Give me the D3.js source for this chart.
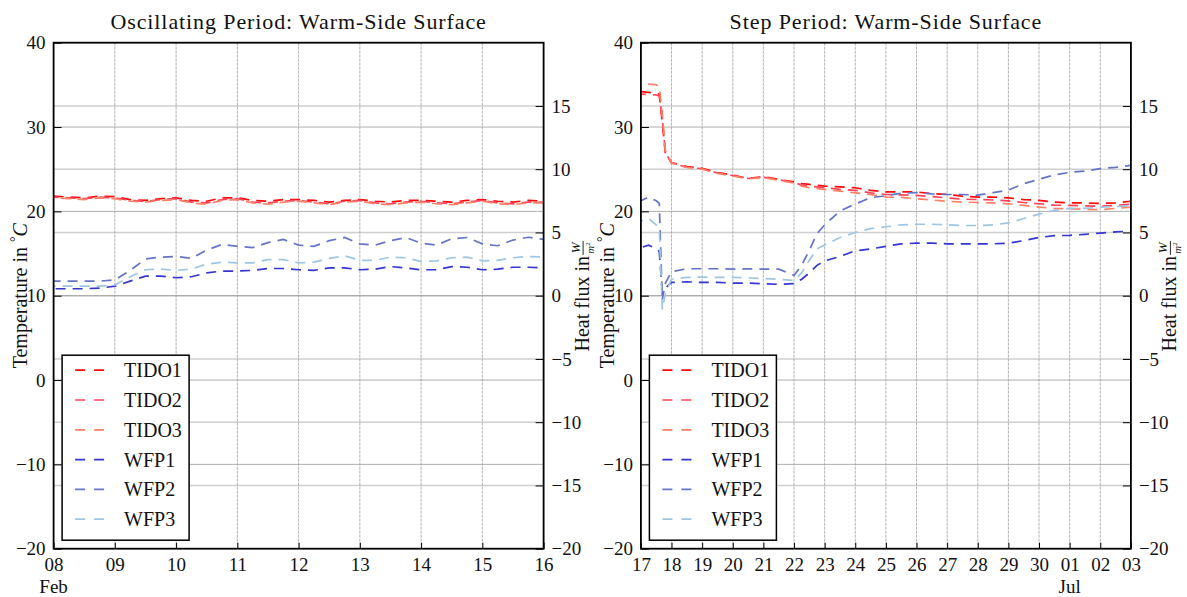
<!DOCTYPE html>
<html>
<head>
<meta charset="utf-8">
<script src="https://cdn.jsdelivr.net/npm/d3@7"></script>
<style>
    body { margin: 0; background: #fff; }
    text { font-family: "Liberation Serif", "Times New Roman", serif; fill: #111; }
</style>
</head>
<body>
<div id="chart"></div>
<script>

// series shared by both panels
const seriesNames = ["TIDO1", "TIDO2", "TIDO3", "WFP1", "WFP2", "WFP3"];
const seriesColors = ["#ff0a0a", "#ff4458", "#ff8066", "#3535d4", "#6674c8", "#9ec6e4"];

// ---- Oscillating period: days since 08 Feb (6 h steps) ----
const oscDays = [0, 0.25, 0.5, 0.75, 1, 1.25, 1.5, 1.75, 2, 2.25, 2.5, 2.75, 3, 3.25, 3.5, 3.75,
    4, 4.25, 4.5, 4.75, 5, 5.25, 5.5, 5.75, 6, 6.25, 6.5, 6.75, 7, 7.25, 7.5, 7.75, 8];

// temperatures, °C
const oscTIDO1 = [21.8, 21.7, 21.6, 21.8, 21.75, 21.4, 21.3, 21.5, 21.6, 21.3, 21.2, 21.6, 21.6, 21.3, 21.2, 21.4,
    21.4, 21.3, 21.1, 21.3, 21.4, 21.2, 21.1, 21.3, 21.3, 21.2, 21.1, 21.3, 21.4, 21.2, 21.1, 21.3, 21.2];
const oscTIDO2 = [21.7, 21.6, 21.5, 21.7, 21.6, 21.3, 21.2, 21.4, 21.5, 21.1, 21.0, 21.4, 21.5, 21.1, 21.0, 21.2,
    21.3, 21.1, 20.9, 21.2, 21.3, 21.0, 20.9, 21.1, 21.2, 21.0, 20.9, 21.1, 21.3, 21.0, 20.9, 21.1, 21.1];
const oscTIDO3 = [21.6, 21.5, 21.4, 21.6, 21.5, 21.2, 21.1, 21.3, 21.4, 21.0, 20.85, 21.3, 21.4, 21.0, 20.85, 21.1,
    21.2, 21.0, 20.8, 21.1, 21.2, 20.9, 20.8, 21.0, 21.1, 20.9, 20.8, 21.0, 21.2, 20.9, 20.8, 21.0, 21.0];

// heat flux, W/m2
const oscWFP1 = [0.55, 0.55, 0.55, 0.6, 0.75, 1.15, 1.55, 1.55, 1.42, 1.5, 1.8, 1.95, 1.95, 2.0, 2.15, 2.15,
    2.05, 2.0, 2.2, 2.2, 2.05, 2.1, 2.3, 2.2, 2.05, 2.05, 2.3, 2.25, 2.05, 2.1, 2.25, 2.25, 2.2];
const oscWFP2 = [1.15, 1.15, 1.15, 1.15, 1.25, 2.0, 2.9, 3.05, 3.1, 2.95, 3.6, 4.05, 3.9, 3.8, 4.2, 4.45,
    4.0, 3.9, 4.35, 4.6, 4.1, 4.0, 4.35, 4.6, 4.15, 4.0, 4.5, 4.6, 4.1, 3.95, 4.4, 4.62, 4.45];
const oscWFP3 = [0.75, 0.75, 0.75, 0.75, 0.85, 1.5, 2.05, 2.1, 2.0, 2.1, 2.5, 2.65, 2.6, 2.6, 2.85, 2.85,
    2.6, 2.65, 2.95, 3.15, 2.8, 2.8, 3.05, 3.0, 2.7, 2.75, 3.0, 3.05, 2.75, 2.8, 3.0, 3.1, 3.05];

// ---- Step period: days since 17 Jun ----
const stepDays = [0, 0.25, 0.5, 0.6, 0.7, 0.8, 1, 1.5, 2, 2.5, 3, 3.5, 4, 4.5, 5, 5.25, 5.5, 5.75,
    6, 6.5, 7, 7.5, 8, 8.5, 9, 9.5, 10, 10.5, 11, 11.5, 12, 12.5, 13, 13.5, 14, 14.5, 15, 15.5, 16];

const stepTIDO1 = [34.2, 34.1, 34.0, 33.9, 30.5, 26.8, 25.8, 25.3, 25.1, 24.6, 24.3, 23.9, 24.1, 23.8, 23.5, 23.3, 23.2, 23.1,
    23.0, 22.9, 22.8, 22.5, 22.3, 22.3, 22.3, 22.1, 22.0, 21.8, 21.7, 21.7, 21.6, 21.4, 21.3, 21.1, 21.0, 21.0, 20.95, 21.0, 21.2];
const stepTIDO2 = [33.9, 33.85, 33.8, 33.7, 31.0, 27.0, 25.7, 25.25, 25.05, 24.55, 24.25, 23.9, 24.05, 23.75, 23.4, 23.15, 23.0, 22.9,
    22.8, 22.6, 22.5, 22.2, 22.0, 21.95, 21.9, 21.75, 21.6, 21.45, 21.4, 21.35, 21.25, 21.05, 20.9, 20.75, 20.7, 20.65, 20.6, 20.7, 20.85];
const stepTIDO3 = [35.2, 35.1, 35.0, 34.8, 31.5, 27.2, 25.75, 25.2, 25.0, 24.5, 24.2, 23.85, 24.0, 23.7, 23.35, 23.0, 22.8, 22.7,
    22.6, 22.4, 22.2, 22.0, 21.7, 21.65, 21.5, 21.35, 21.2, 21.1, 21.05, 21.0, 20.9, 20.7, 20.5, 20.35, 20.3, 20.25, 20.2, 20.35, 20.5];

const stepWFP1 = [3.8, 4.0, 3.7, 3.5, 0.2, 0.6, 1.05, 1.1, 1.05, 1.05, 1.0, 1.0, 0.95, 0.9, 0.95, 1.3, 1.8, 2.4,
    2.75, 3.1, 3.55, 3.7, 3.9, 4.1, 4.15, 4.15, 4.1, 4.1, 4.1, 4.1, 4.15, 4.35, 4.6, 4.75, 4.77, 4.85, 4.95, 5.05, 5.1];
const stepWFP2 = [7.5, 7.8, 7.5, 7.3, -0.3, 1.0, 1.9, 2.13, 2.13, 2.13, 2.1, 2.13, 2.1, 2.1, 1.6, 2.4, 3.6, 4.9,
    5.6, 6.7, 7.25, 7.75, 7.9, 8.1, 8.15, 8.05, 8.0, 8.0, 7.95, 8.15, 8.35, 8.85, 9.2, 9.55, 9.75, 9.85, 10.05, 10.15, 10.3];
const stepWFP3 = [5.9, 6.1, 5.6, 5.3, -1.1, 0.2, 1.3, 1.45, 1.47, 1.45, 1.45, 1.4, 1.35, 1.3, 1.2, 1.8, 2.8, 3.7,
    4.0, 4.6, 5.0, 5.3, 5.45, 5.6, 5.65, 5.65, 5.6, 5.55, 5.55, 5.6, 5.75, 6.1, 6.45, 6.75, 6.9, 6.9, 7.0, 7.05, 7.1];

// axis ticks
const tempTicks = [-20, -10, 0, 10, 20, 30, 40];
const fluxTicks = [-20, -15, -10, -5, 0, 5, 10, 15];

const svg = d3.select("#chart").append("svg")
    .attr("width", 1187)
    .attr("height", 597);

const fmtNum = d => d < 0 ? "\u2212" + Math.abs(d) : String(d);

function drawPanel(opts) {

    const w = opts.width, h = opts.height;

    const g = svg.append("g")
        .attr("transform", `translate(${opts.left},${opts.top})`);

    const x = d3.scaleUtc().domain([opts.start, opts.end]).range([0, w]);
    const yT = d3.scaleLinear().domain([-20, 40]).range([h, 0]);
    const yF = d3.scaleLinear().domain([-20, 20]).range([h, 0]);

    const days = x.ticks(d3.utcDay.every(1));

    // grid: flux grid (light, wide), temperature grid, day grid
    g.append("g").selectAll("line")
        .data(fluxTicks.filter(d => d > -20))
        .enter().append("line")
        .attr("x1", 0).attr("x2", w)
        .attr("y1", d => yF(d)).attr("y2", d => yF(d))
        .attr("stroke", "#cfcfcf")
        .attr("stroke-width", 1.6);

    g.append("g").selectAll("line")
        .data(tempTicks.filter(d => d > -20 && d < 40))
        .enter().append("line")
        .attr("x1", 0).attr("x2", w)
        .attr("y1", d => yT(d)).attr("y2", d => yT(d))
        .attr("stroke", "#9a9a9a")
        .attr("stroke-width", 0.8);

    g.append("g").selectAll("line")
        .data(days)
        .enter().append("line")
        .attr("x1", d => x(d)).attr("x2", d => x(d))
        .attr("y1", 0).attr("y2", h)
        .attr("stroke", "#a0a0a0")
        .attr("stroke-width", 0.8)
        .attr("stroke-dasharray", "3,1");

    // lines
    const clipId = "clip-" + opts.id;
    g.append("clipPath").attr("id", clipId)
        .append("rect").attr("width", w).attr("height", h);

    const dateOf = dd => new Date(+opts.start + dd * 864e5);

    const plot = g.append("g").attr("clip-path", `url(#${clipId})`);

    opts.series.forEach((vals, i) => {
        const yScale = i < 3 ? yT : yF;
        const line = d3.line()
            .x((d, j) => x(dateOf(opts.days[j])))
            .y(d => yScale(d));

        plot.append("path")
            .datum(vals)
            .attr("fill", "none")
            .attr("stroke", seriesColors[i])
            .attr("stroke-width", 1.7)
            .attr("stroke-dasharray", "10,7")
            .attr("stroke-dashoffset", i * 5)
            .attr("d", line);
    });

    // axes (ticks pointing inward)
    const axL = g.append("g")
        .call(d3.axisLeft(yT).tickValues(tempTicks).tickFormat(fmtNum).tickSizeInner(-8).tickSizeOuter(0).tickPadding(8));
    const axR = g.append("g")
        .attr("transform", `translate(${w},0)`)
        .call(d3.axisRight(yF).tickValues(fluxTicks).tickFormat(fmtNum).tickSizeInner(-8).tickSizeOuter(0).tickPadding(8));
    const axB = g.append("g")
        .attr("transform", `translate(0,${h})`)
        .call(d3.axisBottom(x).tickValues(days).tickFormat(d3.utcFormat("%d")).tickSizeInner(-6).tickSizeOuter(0).tickPadding(9));

    [axL, axR, axB].forEach(a => {
        a.select(".domain").remove();
        a.selectAll(".tick line").attr("stroke", "#000").attr("stroke-width", 1);
        a.selectAll("text").attr("font-size", 19).attr("font-family", "Liberation Serif, serif").attr("fill", "#111");
    });

    // month labels under the date ticks
    g.append("g").selectAll("text")
        .data(opts.months)
        .enter().append("text")
        .attr("x", d => x(d.date))
        .attr("y", h + 44)
        .attr("text-anchor", "middle")
        .attr("font-size", 19)
        .text(d => d.label);

    // frame
    g.append("rect")
        .attr("width", w).attr("height", h)
        .attr("fill", "none")
        .attr("stroke", "#000")
        .attr("stroke-width", 1.8);

    // title
    g.append("text")
        .attr("x", w / 2).attr("y", -14)
        .attr("text-anchor", "middle")
        .attr("font-size", 22)
        .attr("letter-spacing", 0.9)
        .text(opts.title);

    // left label: Temperature in °C
    const tl = g.append("text")
        .attr("transform", `translate(-27,${h / 2}) rotate(-90)`)
        .attr("text-anchor", "middle")
        .attr("font-size", 20);
    tl.append("tspan").text("Temperature in ");
    tl.append("tspan").attr("dy", -7).attr("font-size", 14).text("\u00b0");
    tl.append("tspan").attr("dy", 7).attr("font-style", "italic").text("C");

    // right label: Heat flux in W/m²
    const rl = g.append("g")
        .attr("transform", `translate(${w + 45},${h / 2}) rotate(-90)`);
    const rt = rl.append("text").attr("font-size", 20).text("Heat flux in ");
    const len = rt.node().getComputedTextLength();
    const total = len + 16;
    rt.attr("x", -total / 2);
    const fx = -total / 2 + len + 8;
    rl.append("text").attr("x", fx).attr("y", -9).attr("text-anchor", "middle")
        .attr("font-size", 13).attr("font-style", "italic").text("W");
    rl.append("line").attr("x1", fx - 7).attr("x2", fx + 7).attr("y1", -5.5).attr("y2", -5.5)
        .attr("stroke", "#111").attr("stroke-width", 0.9);
    const mt = rl.append("text").attr("x", fx).attr("y", 5).attr("text-anchor", "middle")
        .attr("font-size", 11).attr("font-style", "italic").text("m");
    mt.append("tspan").attr("dy", -4).attr("font-size", 7).attr("font-style", "normal").text("2");

    // legend
    const lg = g.append("g")
        .attr("transform", `translate(8.5,${h - 8.5 - 185})`);
    lg.append("rect")
        .attr("width", 127).attr("height", 185)
        .attr("fill", "#fff")
        .attr("stroke", "#000")
        .attr("stroke-width", 1.5);
    const items = lg.selectAll(".item")
        .data(seriesNames)
        .enter().append("g")
        .attr("transform", (d, i) => `translate(0,${15 + i * 29.8})`);
    items.append("line")
        .attr("x1", 13).attr("x2", 42)
        .attr("stroke", (d, i) => seriesColors[i])
        .attr("stroke-width", 1.7)
        .attr("stroke-dasharray", "10,9");
    items.append("text")
        .attr("x", 62).attr("y", 7)
        .attr("font-size", 20)
        .text(d => d);
}

drawPanel({
    id: "osc",
    left: 53.6, top: 42.7, width: 490, height: 506,
    title: "Oscillating Period: Warm-Side Surface",
    start: new Date(Date.UTC(2016, 1, 8)),
    end: new Date(Date.UTC(2016, 1, 16)),
    days: oscDays,
    series: [oscTIDO1, oscTIDO2, oscTIDO3, oscWFP1, oscWFP2, oscWFP3],
    months: [{date: new Date(Date.UTC(2016, 1, 8)), label: "Feb"}]
});

drawPanel({
    id: "step",
    left: 640.9, top: 42.7, width: 490, height: 506,
    title: "Step Period: Warm-Side Surface",
    start: new Date(Date.UTC(2016, 5, 17)),
    end: new Date(Date.UTC(2016, 6, 3)),
    days: stepDays,
    series: [stepTIDO1, stepTIDO2, stepTIDO3, stepWFP1, stepWFP2, stepWFP3],
    months: [{date: new Date(Date.UTC(2016, 6, 1)), label: "Jul"}]
});

</script>
</body>
</html>
